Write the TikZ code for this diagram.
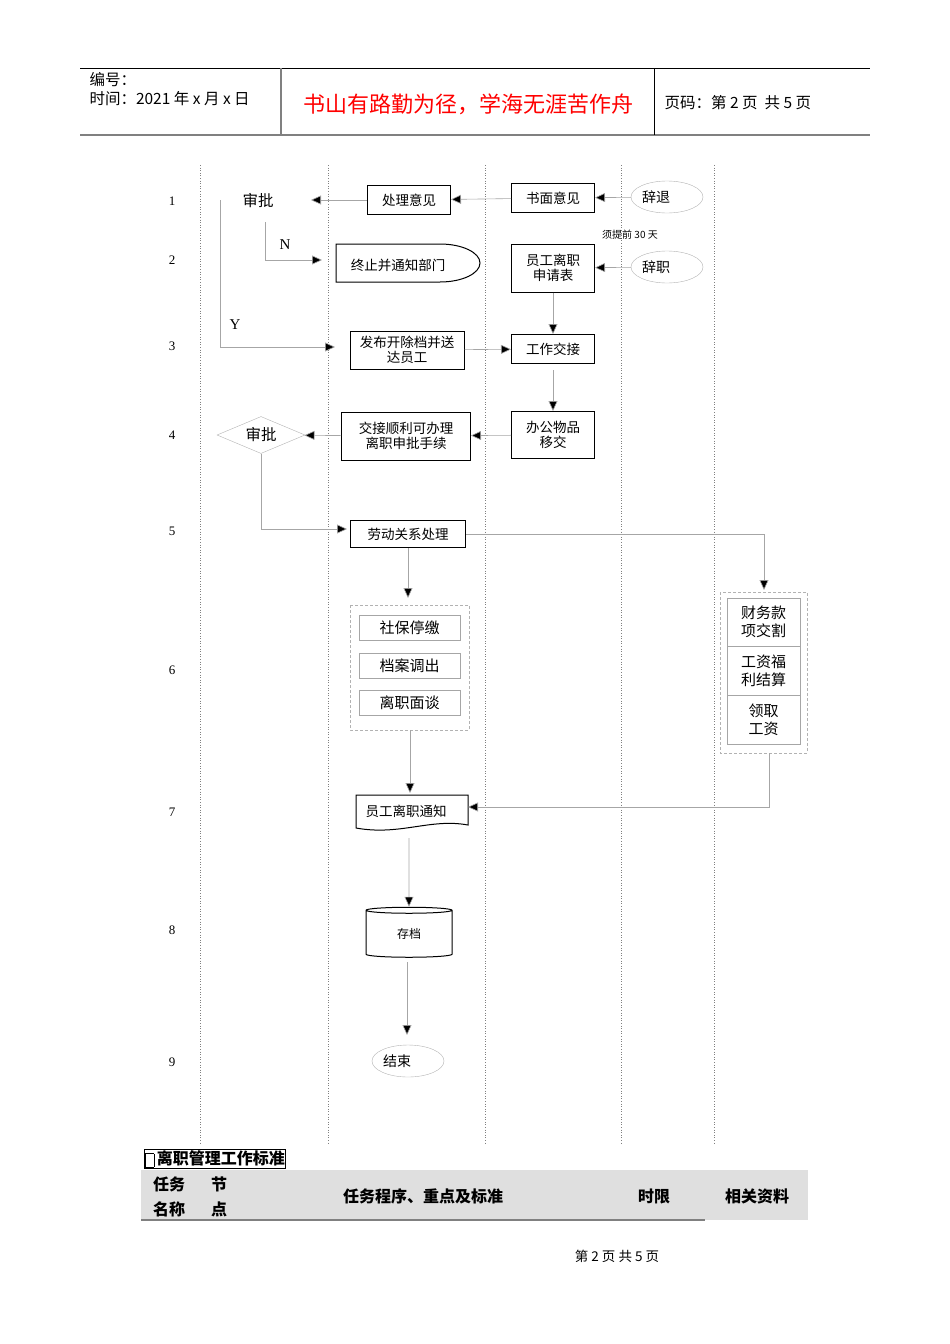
\documentclass[tikz,border=0pt]{standalone}
\usepackage{fontspec}
\setmainfont{Liberation Serif}
\newfontfamily\cjk{Noto Sans CJK SC}
\usetikzlibrary{shapes.geometric,arrows.meta}
\tikzset{
 bx/.style={draw,line width=1pt,font=\cjk\fontsize{13.5}{15.5}\selectfont,inner sep=0pt,align=center},
 gbx/.style={draw=gray!70,font=\cjk\fontsize{15}{18}\selectfont,inner sep=0pt,align=center},
 gell/.style={draw=gray!60,ellipse,font=\cjk\fontsize{14}{15}\selectfont,minimum width=72pt,minimum height=32pt,inner sep=0pt},
 con/.style={draw=gray!70,line width=0.6pt,-{Triangle[length=10pt,width=9pt,fill=black]}},
 lane/.style={draw=gray,dotted,line width=0.6pt},
 num/.style={font=\fontsize{13}{15}\selectfont},
}
\begin{document}
\begin{tikzpicture}[x=1pt,y=-1pt]
\useasboundingbox (0,0) rectangle (950,1344);
% header
\draw[line width=0.8pt] (80,68) -- (870,68);
\draw[gray,line width=1.8pt] (80,135) -- (870,135);
\draw[gray,line width=1.2pt] (281,68) -- (281,135);
\draw[line width=0.8pt] (654,68) -- (654,135);
\node[anchor=west,font=\cjk\fontsize{15.5}{18}\selectfont] (h1) at (86,80) {编号：};
\node[anchor=west,font=\cjk\fontsize{15.5}{18}\selectfont] (h2) at (86,99) {时间：2021 年 x 月 x 日};
\node[font=\cjk\fontsize{22}{26}\selectfont,text=red] (h3) at (468,104) {书山有路勤为径，学海无涯苦作舟};
\node[anchor=west,font=\cjk\fontsize{15.5}{18}\selectfont] (h4) at (661,103) {页码：第 2 页\ \ 共 5 页};
% lanes
\foreach \x in {200,328,485,621,714} \draw[lane] (\x,165) -- (\x,1145);
% row numbers
\foreach \n/\y in {1/201,2/260,3/346,4/435,5/531,6/670,7/812,8/930,9/1062} \node[num] (r\n) at (172,\y) {\n};
% nodes
\node[font=\cjk\fontsize{15.5}{18}\selectfont] (sp1) at (258,201) {审批};
\node[bx,minimum width=83pt,minimum height=29pt] (clyj) at (409,200) {处理意见};
\node[bx,minimum width=83pt,minimum height=29pt] (smyj) at (553,198) {书面意见};
\node[gell] (ct) at (667,197) {\hspace*{-22pt}辞退};
\node[font=\cjk\fontsize{10}{12}\selectfont] (xtq) at (630,235) {须提前 30 天};
\node[bx,minimum width=83pt,minimum height=48pt] (sqb) at (553,268) {员工离职\\申请表};
\node[gell] (cz) at (667,267) {\hspace*{-22pt}辞职};
\draw[line width=1pt] (336,244) -- (440,244) arc[start angle=90,end angle=-90,x radius=40pt,y radius=19pt] -- (336,282) -- cycle;
\node[font=\cjk\fontsize{13.5}{15}\selectfont] (zz) at (398,265) {终止并通知部门};
\coordinate (zzw) at (322,260);
\node[font=\fontsize{15}{17}\selectfont] (N) at (285,245) {N};
\node[font=\fontsize{15}{17}\selectfont] (Y) at (235,325) {Y};
\node[bx,minimum width=114pt,minimum height=38pt] (fb) at (407,350) {发布开除档并送\\达员工};
\node[bx,minimum width=83pt,minimum height=29pt] (gzjj) at (553,349) {工作交接};
\node[bx,minimum width=83pt,minimum height=47pt] (bg) at (553,435) {办公物品\\移交};
\node[bx,minimum width=129pt,minimum height=48pt] (jj) at (406,436) {交接顺利可办理\\离职申批手续};
\node[diamond,draw=gray!60,aspect=2.4,minimum width=88pt,minimum height=37pt,inner sep=0pt,font=\cjk\fontsize{15.5}{18}\selectfont] (sp2) at (261,435) {审批};
\node[bx,minimum width=115pt,minimum height=27pt] (ld) at (408,534) {劳动关系处理};
\coordinate (ldw) at (347,529);
% left group
\draw[gray!60,densely dashed] (350,605) rectangle (469,730);
\node[gbx,minimum width=101pt,minimum height=25pt] (sb) at (409.5,627.5) {社保停缴};
\node[gbx,minimum width=101pt,minimum height=25pt] (da) at (409.5,665.5) {档案调出};
\node[gbx,minimum width=101pt,minimum height=25pt] (lm) at (409.5,702.5) {离职面谈};
% right group
\draw[gray!60,densely dashed] (720,592) rectangle (807,753);
\node[gbx,minimum width=73pt,minimum height=48pt] (cw) at (763.5,622) {财务款\\项交割};
\node[gbx,minimum width=73pt,minimum height=49pt] (gz) at (763.5,670.5) {工资福\\利结算};
\node[gbx,minimum width=73pt,minimum height=49pt] (lq) at (763.5,719.5) {领取\\工资};
% document
\draw[line width=1pt] (356,795) -- (468,795) -- (468,825) .. controls (430,818) and (400,836) .. (356,828) -- cycle;
\node[font=\cjk\fontsize{13.5}{15}\selectfont] (tz) at (406,811) {员工离职通知};
% cylinder
\node[cylinder,shape border rotate=90,draw,line width=1pt,minimum width=86pt,minimum height=50pt,aspect=0.25,inner sep=0pt,font=\cjk\fontsize{12}{14}\selectfont] (cd) at (409,934) {存档};
\node[gell] (js) at (408,1061) {\hspace*{-22pt}结束};
% connectors
\draw[con] (smyj) -- (clyj);
\draw[con] (clyj) -- (311,200);
\draw[con] (ct) -- (smyj);
\draw[con] (cz) -- (sqb);
\draw[con] (265,222) -- (265,260) -- (zzw);
\draw[con] (220,200) -- (220,347) -- (335,347);
\draw[con] (sqb) -- (gzjj);
\draw[con] (fb) -- (gzjj);
\draw[con] (553,370) -- (bg.north);
\draw[con] (bg) -- (jj);
\draw[con] (jj) -- (sp2);
\draw[con] (sp2.south) -- (261,529) -- (ldw);
\draw[con] (ld.east) -- (764,534) -- (764,590);
\draw[con] (408,548) -- (408,598);
\draw[con] (410,730) -- (410,793);
\draw[con] (769,753) -- (769,807) -- (468,807);
\draw[con] (409,838) -- (cd.north);
\draw[con] (407,962) -- (407,1035);
% bottom table
\node[draw,line width=0.9pt,anchor=west,inner sep=1pt,font=\cjk\bfseries\fontsize{16}{18}\selectfont] (ttl) at (144,1159) {\raisebox{1pt}{\fbox{\rule{0pt}{7pt}\rule{2pt}{0pt}}}\,离职管理工作标准};
\fill[gray!25] (141,1170) rectangle (808,1220);
\draw[gray,line width=1.8pt] (141,1220) -- (705,1220);
\begin{scope}[every node/.style={font=\cjk\bfseries\fontsize{16}{18}\selectfont}]
\node (t1) at (169,1184) {任务};
\node (t2) at (169,1209) {名称};
\node (t3) at (219,1184) {节};
\node (t4) at (219,1209) {点};
\node (t5) at (423,1196) {任务程序、重点及标准};
\node (t6) at (654,1196) {时限};
\node (t7) at (757,1196) {相关资料};
\end{scope}
\node[font=\cjk\fontsize{13.5}{15}\selectfont] (ft) at (617,1256) {第 2 页 共 5 页};
\end{tikzpicture}
\end{document}
